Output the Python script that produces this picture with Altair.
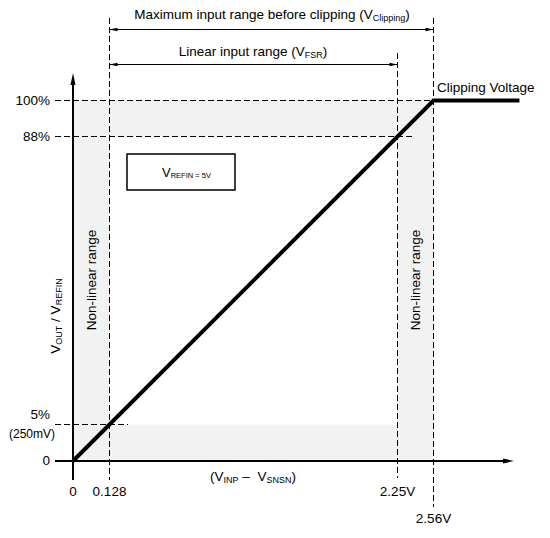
import altair as alt
import pandas as pd

# ---------------- data ----------------
x_breaks = [0, 0.128, 2.25, 2.56]            # V_INP - V_SNSN  (V)
x_labels = ["0", "0.128", "2.25V", "2.56V"]
y_breaks = [0, 5, 88, 100]                   # V_OUT / V_REFIN (%)
y_labels = ["0", "5%", "88%", "100%"]
transfer_x = [0, 2.56, 3.3]                  # transfer curve (clips at 100 %)
transfer_y = [0, 100, 100]

# ---------------- layout helpers ----------------
OFF = 8  # page margin


def P(v):
    return v - OFF


FONT = "Liberation Sans"
MAIN = 13.5
SUB = 9

# schematic (piecewise linear) scales
xs = alt.Scale(domain=x_breaks, range=[P(73), P(109.5), P(397.5), P(433.5)], nice=False, zero=False)
ys = alt.Scale(domain=y_breaks, range=[P(461), P(424.5), P(136.5), P(100.5)], nice=False, zero=False)

# Arial / Liberation Sans advance widths (1/1000 em)
WID = {" ": 278, "(": 333, ")": 333, "%": 889, ".": 278, "/": 278, "=": 584, "–": 556, "-": 333}
for d in "0123456789":
    WID[d] = 556
WID.update(dict(zip("ABCDEFGHIJKLMNOPQRSTUVWXYZ",
                    [667, 667, 722, 722, 667, 611, 778, 722, 278, 500, 667, 556, 833, 722, 778, 667, 778,
                     722, 667, 611, 722, 667, 944, 667, 667, 611])))
WID.update(dict(zip("abcdefghijklmnopqrstuvwxyz",
                    [556, 556, 500, 556, 556, 278, 556, 556, 222, 222, 500, 222, 833, 556, 556, 556, 556,
                     333, 500, 278, 556, 500, 722, 500, 500, 500])))


def tw(s, size):
    return sum(WID.get(c, 556) for c in s) * size / 1000.0


h_rows, r_rows = [], []


def rich(parts, cx, cy, anchor="center", rotate=False, main=MAIN):
    total = sum(tw(t, s) for t, s, _ in parts)
    if anchor == "center":
        cum = -total / 2
    elif anchor == "left":
        cum = 0
    else:
        cum = -total
    for t, s, sh in parts:
        lead = len(t) - len(t.lstrip(" "))
        cum += tw(" " * lead, s)
        body = t.strip(" ")
        if rotate:
            r_rows.append({"t": body, "s": s, "x": P(cx + 0.36 * main + sh), "y": P(cy - cum)})
        else:
            h_rows.append({"t": body, "s": s, "x": P(cx + cum), "y": P(cy + 0.36 * main + sh)})
        cum += tw(t.lstrip(" "), s)


SH = 2
rich([("Maximum input range before clipping (V", MAIN, 0), ("Clipping", SUB, SH), (")", MAIN, 0)], 272, 14)
rich([("Linear input range (V", MAIN, 0), ("FSR", SUB, SH), (")", MAIN, 0)], 253, 51)
rich([("(V", MAIN, 0), ("INP", SUB, SH), (" – ", MAIN, 0), (" V", MAIN, 0), ("SNSN", SUB, SH), (")", MAIN, 0)],
     253, 476)
rich([("Clipping Voltage", MAIN, 0)], 437, 87, anchor="left")
rich([("V", 13, 0), ("REFIN = 5V", 7.5, 1)], 162, 172.5, anchor="left", main=13)
rich([("V", MAIN, 0), ("OUT", SUB, SH), (" / V", MAIN, 0), ("REFIN", SUB, SH)], 55, 316, rotate=True)
rich([("Non-linear range", MAIN, 0)], 91, 280, rotate=True)
rich([("Non-linear range", MAIN, 0)], 415, 280, rotate=True)

hdf = pd.DataFrame(h_rows)
rdf = pd.DataFrame(r_rows)

NOAX = dict(axis=None)

# ---------------- layers ----------------
shade_df = pd.DataFrame({
    "x": [x_breaks[0], x_breaks[2], x_breaks[1], x_breaks[1]],
    "x2": [x_breaks[1], x_breaks[3], x_breaks[2], x_breaks[2]],
    "y": [y_breaks[0], y_breaks[0], y_breaks[2], y_breaks[0]],
    "y2": [y_breaks[3], y_breaks[3], y_breaks[3], y_breaks[1]],
})
shade = alt.Chart(shade_df).mark_rect(color="#f2f2f2").encode(
    x=alt.X("x:Q", scale=xs, **NOAX), x2="x2:Q",
    y=alt.Y("y:Q", scale=ys, **NOAX), y2="y2:Q")

DASH = [6, 3]


def vguide(xv, top, bottom):
    return alt.Chart(pd.DataFrame({"x": [xv]})).mark_rule(
        color="black", strokeWidth=1, strokeDash=DASH).encode(
        x=alt.X("x:Q", scale=xs, **NOAX), y=alt.value(P(top)), y2=alt.value(P(bottom)))


def hguide(yv, left, right):
    return alt.Chart(pd.DataFrame({"y": [yv]})).mark_rule(
        color="black", strokeWidth=1, strokeDash=DASH).encode(
        y=alt.Y("y:Q", scale=ys, **NOAX), x=alt.value(P(left)), x2=alt.value(P(right)))


guides = [
    vguide(x_breaks[1], 18, 480),
    vguide(x_breaks[2], 53, 478),
    vguide(x_breaks[3], 18, 507),
    hguide(y_breaks[3], 55, 433),
    hguide(y_breaks[2], 55, 415),
    hguide(y_breaks[1], 55, 128),
]

# axes
y_axis = alt.Chart(pd.DataFrame({"x": [x_breaks[0]]})).mark_rule(color="black", strokeWidth=2).encode(
    x=alt.X("x:Q", scale=xs, **NOAX), y=alt.value(P(480)), y2=alt.value(P(83)))
x_axis = alt.Chart(pd.DataFrame({"y": [y_breaks[0]]})).mark_rule(color="black", strokeWidth=2).encode(
    y=alt.Y("y:Q", scale=ys, **NOAX), x=alt.value(P(55)), x2=alt.value(P(505)))

UP = "M0,-1L0.42,1L-0.42,1Z"
RIGHT = "M1,0L-1,-0.45L-1,0.45Z"
LEFT = "M-1,0L1,-0.45L1,0.45Z"

y_head = alt.Chart(pd.DataFrame({"x": [x_breaks[0]]})).mark_point(
    shape=UP, filled=True, size=144, color="black", opacity=1).encode(
    x=alt.X("x:Q", scale=xs, **NOAX), y=alt.value(P(79)))
x_head = alt.Chart(pd.DataFrame({"y": [y_breaks[0]]})).mark_point(
    shape=RIGHT, filled=True, size=121, color="black", opacity=1).encode(
    y=alt.Y("y:Q", scale=ys, **NOAX), x=alt.value(P(508.5)))


def span_arrow(xa, xb, ypix):
    d = pd.DataFrame({"x": [xa], "x2": [xb]})
    base = alt.Chart(d)
    line = base.mark_rule(color="black", strokeWidth=1).encode(
        x=alt.X("x:Q", scale=xs, **NOAX), x2="x2:Q", y=alt.value(P(ypix)))
    lh = base.mark_point(shape=LEFT, filled=True, size=64, color="black", opacity=1, xOffset=4).encode(
        x=alt.X("x:Q", scale=xs, **NOAX), y=alt.value(P(ypix)))
    rh = base.mark_point(shape=RIGHT, filled=True, size=64, color="black", opacity=1, xOffset=-4).encode(
        x=alt.X("x2:Q", scale=xs, **NOAX), y=alt.value(P(ypix)))
    return [line, lh, rh]


arrows = span_arrow(x_breaks[1], x_breaks[3], 29.5) + span_arrow(x_breaks[1], x_breaks[2], 64.5)

transfer = alt.Chart(pd.DataFrame({"x": transfer_x, "y": transfer_y})).mark_line(
    color="black", strokeWidth=4).encode(
    x=alt.X("x:Q", scale=xs, **NOAX), y=alt.Y("y:Q", scale=ys, **NOAX))

box = alt.Chart(pd.DataFrame({"a": [0]})).mark_rect(
    fill="white", stroke="black", strokeWidth=1.5).encode(
    x=alt.value(P(127)), x2=alt.value(P(235)), y=alt.value(P(154)), y2=alt.value(P(190)))

# tick labels
xt = pd.DataFrame({"v": x_breaks, "t": x_labels,
                   "yp": [P(492), P(492), P(492), P(519)]})
x_ticks = alt.Chart(xt).mark_text(font=FONT, fontSize=MAIN, baseline="middle", align="center", color="black").encode(
    x=alt.X("v:Q", scale=xs, **NOAX), y=alt.Y("yp:Q", scale=None), text="t:N")

yt = pd.DataFrame({"v": y_breaks, "t": y_labels})
yt_main = yt[yt["v"] != y_breaks[1]]
yt_5 = yt[yt["v"] == y_breaks[1]]
y_ticks = alt.Chart(yt_main).mark_text(font=FONT, fontSize=MAIN, baseline="middle", align="right", color="black").encode(
    y=alt.Y("v:Q", scale=ys, **NOAX), x=alt.value(P(50)), text="t:N")
y_tick5 = alt.Chart(yt_5).mark_text(font=FONT, fontSize=MAIN, baseline="middle", align="right", color="black",
                                    dy=-10).encode(
    y=alt.Y("v:Q", scale=ys, **NOAX), x=alt.value(P(50)), text="t:N")
y_tick5b = alt.Chart(yt_5).mark_text(font=FONT, fontSize=12, baseline="middle", align="right", color="black",
                                     dy=9).encode(
    y=alt.Y("v:Q", scale=ys, **NOAX), x=alt.value(P(55)), text=alt.value("(250mV)"))

htext = alt.Chart(hdf).mark_text(font=FONT, align="left", baseline="alphabetic", color="black").encode(
    x=alt.X("x:Q", scale=None), y=alt.Y("y:Q", scale=None), text="t:N", size=alt.Size("s:Q", scale=None))
rtext = alt.Chart(rdf).mark_text(font=FONT, align="left", baseline="alphabetic", angle=270, color="black").encode(
    x=alt.X("x:Q", scale=None), y=alt.Y("y:Q", scale=None), text="t:N", size=alt.Size("s:Q", scale=None))

chart = alt.layer(
    shade, *guides, y_axis, x_axis, y_head, x_head, *arrows, transfer, box,
    x_ticks, y_ticks, y_tick5, y_tick5b, htext, rtext
).resolve_scale(x="independent", y="independent").properties(
    width=534, height=522, padding=0, autosize="none"
).configure_view(stroke=None)

chart.save("out.html", embed_options={"renderer": "svg", "actions": False})
